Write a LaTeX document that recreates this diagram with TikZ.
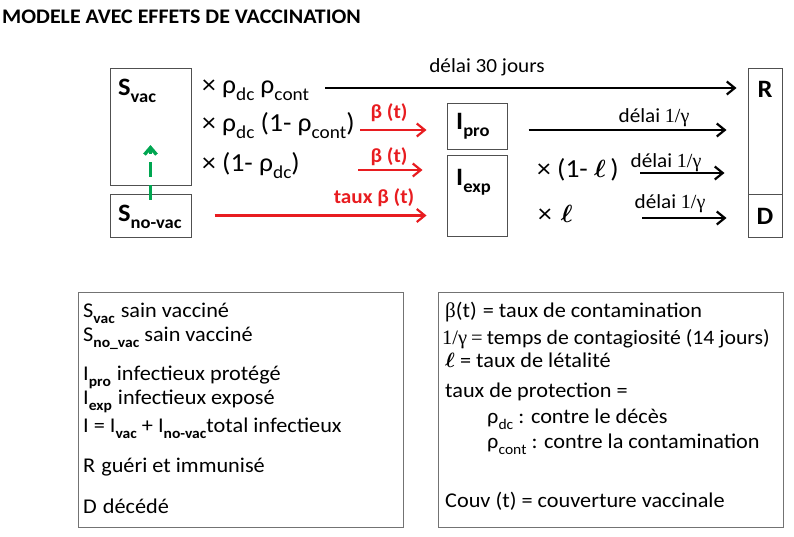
\documentclass[tikz,border=0pt]{standalone}
\usepackage{fontspec}
\usepackage{amsmath}
\setmainfont{Carlito}[FakeStretch=1.06]
\newfontfamily\gam{Liberation Serif}
\usetikzlibrary{positioning,arrows.meta,calc}
\definecolor{mdRed}{RGB}{232,28,32}
\definecolor{mdGreen}{RGB}{0,166,81}
\definecolor{mdGray}{RGB}{80,80,80}
\newcommand{\lo}[1]{\raisebox{-0.3em}{\scalebox{0.7}{#1}}}
\newcommand{\lam}{{\boldmath$\ell$}}

\begin{document}
\begin{tikzpicture}[x=1pt, y=-1pt,
  comp/.style={draw=mdGray, line width=1pt, inner sep=0pt},
  boxlab/.style={anchor=base west, inner sep=0pt, font=\fontsize{25}{29}\selectfont\bfseries},
  rate/.style={anchor=base west, inner sep=0pt, font=\fontsize{26}{30}\selectfont},
  betalab/.style={anchor=base, inner sep=0pt, text=mdRed, font=\fontsize{20}{24}\selectfont\bfseries},
  delai/.style={anchor=base, inner sep=0pt, font=\fontsize{20}{24}\selectfont},
  legline/.style={anchor=base west, inner sep=0pt, font=\fontsize{21}{25}\selectfont},
  flow/.style={line width=2.2pt, -{Straight Barb[length=8pt,width=13pt]}},
  infect/.style={flow, draw=mdRed},
  vacc/.style={draw=mdGreen, line width=3.4pt, dash pattern=on 15pt off 8pt, -{Straight Barb[length=7pt,width=12pt]}}]
  \useasboundingbox (0,0) rectangle (794,536);

  % Title
  \node[anchor=base west, inner sep=0pt, font=\fontsize{20.7}{24}\selectfont\bfseries] (titre) at (2,23) {MODELE AVEC EFFETS DE VACCINATION};

  % Compartments
  \node[comp, minimum width=81pt, minimum height=117pt] (svac) at (150.5,126.5) {};
  \node[comp, minimum width=81pt, minimum height=43pt] (snovac) at (150.5,215.5) {};
  \node[comp, minimum width=60pt, minimum height=46pt] (ipro) at (477,126) {};
  \node[comp, minimum width=60pt, minimum height=81pt] (iexp) at (477,195.5) {};
  \node[comp, minimum width=34pt, minimum height=126pt] (rbox) at (765,131) {};
  \node[comp, minimum width=34pt, minimum height=43pt] (dbox) at (765,215.5) {};
  \node[boxlab] (svaclab) at (118,95) {S\lo{vac}};
  \node[boxlab] (snovaclab) at (118,221) {S\lo{no-vac}};
  \node[boxlab] (iprolab) at (456,129) {I\lo{pro}};
  \node[boxlab] (iexplab) at (456,185) {I\lo{exp}};
  \node[boxlab, anchor=base] (rlab) at (765,97) {R};
  \node[boxlab, anchor=base] (dlab) at (765,224) {D};

  % Vaccination
  \coordinate (vtip) at (150.5,145);
  \draw[vacc, shorten <=-6pt] (snovac.north) -- (vtip);

  % Rates out of S
  \node[rate] (rvac) at (202,93) {× ρ\lo{dc}\hspace{6pt}ρ\lo{cont}};
  \node[rate] (rpro) at (202,131) {× ρ\lo{dc} (1- ρ\lo{cont})};
  \node[rate] (rexp) at (202,171) {× (1- ρ\lo{dc})};
  \coordinate (tvac) at (325,88);
  \coordinate (tpro) at (360,130);
  \coordinate (texp) at (358,170);
  \draw[flow, shorten >=11pt] (tvac) -- (tvac -| rbox.west);
  \draw[infect, shorten >=20pt] (tpro) -- (tpro -| ipro.west);
  \draw[infect, shorten >=24pt] (texp) -- (texp -| iexp.west);
  \draw[infect, shorten <=23pt, shorten >=20pt] (snovac.east) -- (snovac.east -| iexp.west);
  \node[delai] (d30) at (487,72) {délai 30 jours};
  \node[betalab] (bpro) at (389,118) {β (t)};
  \node[betalab] (bexp) at (389,162) {β (t)};
  \node[betalab] (bnov) at (374,203) {taux β (t)};

  % Rates out of I
  \node[rate] (rgue) at (537,177) {× (1- \lam\,)};
  \node[rate] (rdec) at (538,222) {×\hspace{9pt}\lam};
  \coordinate (tgue) at (640,173);
  \coordinate (tdec) at (642,218);
  \draw[flow, shorten <=21pt, shorten >=21pt] ([yshift=-4pt]ipro.east) -- ([yshift=-4pt]ipro.east -| rbox.west);
  \draw[flow, shorten >=23pt] (tgue) -- (tgue -| rbox.west);
  \draw[flow, shorten >=21pt] (tdec) -- (tdec -| dbox.west);
  \node[delai] (dpro) at (654,122) {délai {\gam 1/γ}};
  \node[delai] (dgue) at (666,167) {délai {\gam 1/γ}};
  \node[delai] (ddec) at (670,208) {délai {\gam 1/γ}};

  % Legend: compartments
  \begin{scope}[xshift=83pt]
    \node[comp, draw=mdGray!80, minimum width=325pt, minimum height=235pt] (legcomp) at (157.5,409.5) {};
    \node[legline] (lsvac) at (0,317) {S\lo{\textbf{vac}}\hspace{6pt}sain vacciné};
    \node[legline] (lsnovac) at (0,341) {S\lo{\textbf{no\_vac}} sain vacciné};
    \node[legline] (lipro) at (0,380) {I\lo{\textbf{pro}}\hspace{6pt}infectieux protégé};
    \node[legline] (liexp) at (0,404) {I\lo{\textbf{exp}}\hspace{6pt}infectieux exposé};
    \node[legline] (ltot) at (0,432) {I = I\lo{\textbf{vac}} + I\lo{\textbf{no-vac}}total infectieux};
    \node[legline] (lr) at (0,472) {R\hspace{6pt}guéri et immunisé};
    \node[legline] (ld) at (0,513) {D\hspace{6pt}décédé};
  \end{scope}

  % Legend: parameters
  \begin{scope}[xshift=445pt]
    \node[comp, draw=mdGray!80, minimum width=345pt, minimum height=235pt] (legpar) at (165.5,409.5) {};
    \node[legline] (lbeta) at (0,317) {{\gam β}(t)\hspace{6pt}= taux de contamination};
    \node[legline, font=\fontsize{20.5}{25}\selectfont] (lgam) at (-3,344) {{\gam 1/γ\hspace{4pt}=}\hspace{4pt}temps de contagiosité (14 jours)};
    \node[legline] (llet) at (0,367) {\lam\ = taux de létalité};
    \node[legline] (lprot) at (0,397) {taux de protection =};
    \node[legline] (ldc) at (42,423) {ρ\lo{dc} : contre le décès};
    \node[legline] (lcont) at (42,448) {ρ\lo{cont} : contre la contamination};
    \node[legline] (lcouv) at (0,507) {Couv (t) = couverture vaccinale};
  \end{scope}
\end{tikzpicture}
\end{document}
